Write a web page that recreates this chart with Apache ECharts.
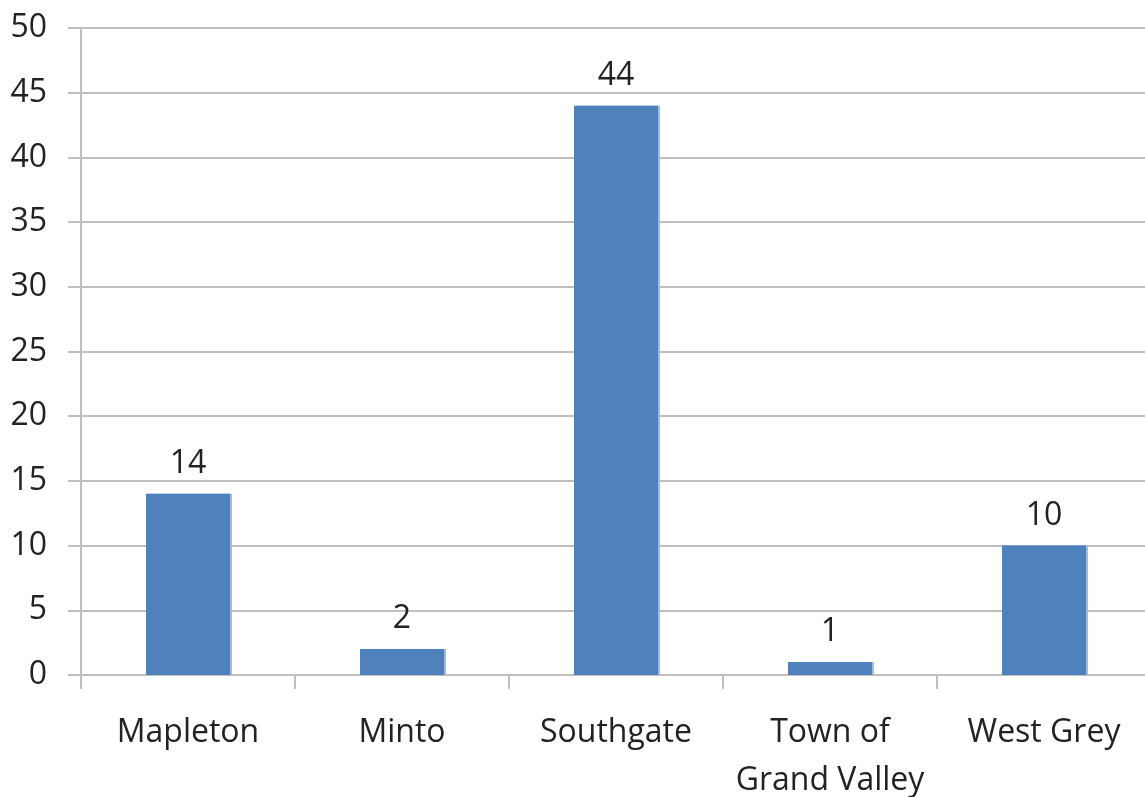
<!DOCTYPE html>
<html>
<head>
<meta charset="utf-8">
<script src="https://cdn.jsdelivr.net/npm/echarts@6/dist/echarts.min.js"></script>
<style>
  html, body { margin: 0; padding: 0; background: #fff; }
  #chart { width: 1145px; height: 797px; }
</style>
</head>
<body>
<div id="chart"></div>
<script>
// Counts per municipality
const categories = ['Mapleton', 'Minto', 'Southgate', 'Town of\nGrand Valley', 'West Grey'];
const counts = [14, 2, 44, 1, 10];
const yMin = 0;
const yMax = 50;
const yStep = 5;

const FONT = '"Open Sans", "Liberation Sans", sans-serif';
const GRID_COLOR = '#bfbfbf';
const TEXT_COLOR = '#222';

const chart = echarts.init(document.getElementById('chart'), null, { renderer: 'canvas' });
chart.setOption({
  animation: false,
  backgroundColor: '#fff',
  grid: { left: 81, top: 28, width: 1070, bottom: 122, containLabel: false, outerBoundsMode: 'none' },
  xAxis: {
    type: 'category',
    data: categories,
    boundaryGap: true,
    axisLine: { show: true, lineStyle: { color: GRID_COLOR, width: 2 } },
    axisTick: { show: true, alignWithLabel: false, length: 14, inside: false, lineStyle: { color: GRID_COLOR, width: 2 } },
    axisLabel: {
      color: TEXT_COLOR, fontFamily: FONT, fontSize: 32, margin: 34, lineHeight: 48, interval: 0
    },
    splitLine: { show: false }
  },
  yAxis: {
    type: 'value',
    min: yMin,
    max: yMax,
    interval: yStep,
    axisLine: { show: true, lineStyle: { color: GRID_COLOR, width: 2 } },
    axisTick: { show: true, length: 13, lineStyle: { color: GRID_COLOR, width: 2 } },
    axisLabel: { color: TEXT_COLOR, fontFamily: FONT, fontSize: 32, margin: 34 },
    splitLine: { show: true, lineStyle: { color: GRID_COLOR, width: 2 } }
  },
  series: [{
    type: 'bar',
    data: counts,
    barWidth: 84,
    itemStyle: {
      color: '#4f81bd',
      shadowColor: '#9fbbe0',
      shadowOffsetX: 2,
      shadowOffsetY: 0,
      shadowBlur: 0
    },
    label: {
      show: true,
      position: 'top',
      distance: 14,
      color: TEXT_COLOR,
      fontFamily: FONT,
      fontSize: 32
    }
  }]
});
</script>
</body>
</html>
